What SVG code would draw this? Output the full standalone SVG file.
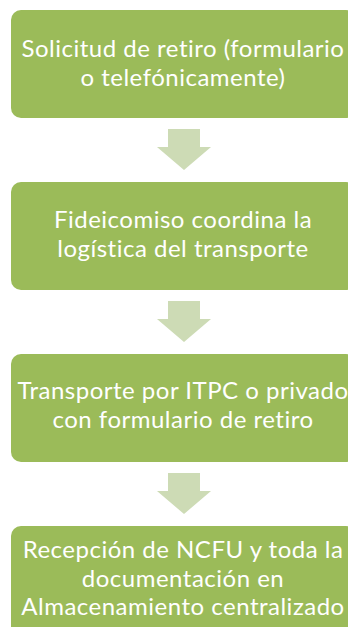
<svg xmlns="http://www.w3.org/2000/svg" width="348" height="627" viewBox="0 0 348 627">
<style>
.box{fill:#9BBB59}
.arr{fill:#CDDBB5}
.t{fill:#FFFFFF;font-family:Lato,"Open Sans","Liberation Sans",sans-serif;font-size:24px;letter-spacing:0.5px;text-anchor:middle}
</style>
<rect width="348" height="627" fill="#FFFFFF"/>
<g id="connectors">
<polygon class="arr" points="168,129 200,129 200,147 211,147 184,170 157,147 168,147"/>
<polygon class="arr" points="168,301 200,301 200,319 211,319 184,342 157,319 168,319"/>
<polygon class="arr" points="168,473 200,473 200,491 211,491 184,514 157,491 168,491"/>
</g>
<g id="node1">
<rect class="box" x="11" y="10" width="345" height="108" rx="10"/>
<text class="t" x="183" y="57">Solicitud de retiro (formulario</text>
<text class="t" x="183" y="86">o telefónicamente)</text>
</g>
<g id="node2">
<rect class="box" x="11" y="182" width="345" height="108" rx="10"/>
<text class="t" x="183" y="228">Fideicomiso coordina la</text>
<text class="t" x="183" y="257">logística del transporte</text>
</g>
<g id="node3">
<rect class="box" x="11" y="354" width="345" height="108" rx="10"/>
<text class="t" x="183" y="399">Transporte por ITPC o privado</text>
<text class="t" x="183" y="428">con formulario de retiro</text>
</g>
<g id="node4">
<rect class="box" x="11" y="526" width="345" height="120" rx="10"/>
<text class="t" x="183" y="558">Recepción de NCFU y toda la</text>
<text class="t" x="183" y="587">documentación en</text>
<text class="t" x="183" y="615">Almacenamiento centralizado</text>
</g>
</svg>
